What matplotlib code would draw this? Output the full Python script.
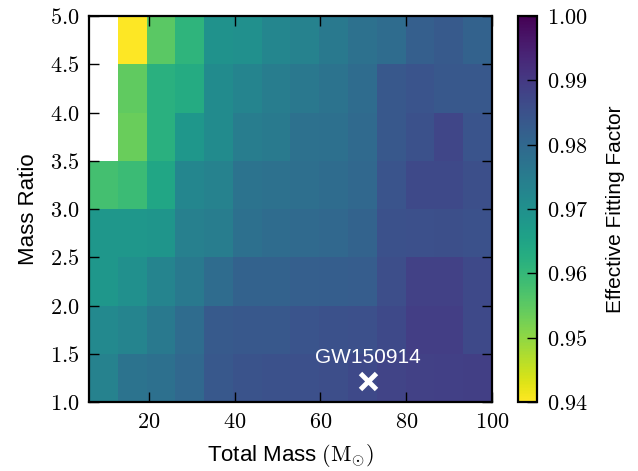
import numpy as np
import matplotlib
matplotlib.use('Agg')
import matplotlib.pyplot as plt
from matplotlib.ticker import FuncFormatter, MultipleLocator

plt.rcParams['mathtext.fontset'] = 'cm'
plt.rcParams['font.family'] = ['Liberation Sans', 'DejaVu Sans']

# grid edges: total mass (x) and mass ratio (y)
mass_edges = np.linspace(6, 100, 15)
ratio_edges = np.arange(1.0, 5.01, 0.5)

# effective fitting factor, rows from q=1.0-1.5 up to q=4.5-5.0
nan = np.nan
eff_ff = np.array([
    [0.9736, 0.9772, 0.9780, 0.9800, 0.9838, 0.9847, 0.9850, 0.9853, 0.9859, 0.9868, 0.9880, 0.9883, 0.9886, 0.9889],
    [0.9718, 0.9730, 0.9757, 0.9790, 0.9832, 0.9838, 0.9838, 0.9844, 0.9850, 0.9853, 0.9868, 0.9892, 0.9892, 0.9868],
    [0.9682, 0.9700, 0.9730, 0.9757, 0.9790, 0.9814, 0.9814, 0.9820, 0.9823, 0.9826, 0.9859, 0.9883, 0.9883, 0.9868],
    [0.9682, 0.9682, 0.9688, 0.9742, 0.9748, 0.9780, 0.9790, 0.9796, 0.9800, 0.9811, 0.9850, 0.9853, 0.9856, 0.9850],
    [0.9580, 0.9592, 0.9646, 0.9724, 0.9736, 0.9772, 0.9778, 0.9784, 0.9790, 0.9800, 0.9844, 0.9868, 0.9868, 0.9856],
    [nan,    0.9538, 0.9619, 0.9682, 0.9712, 0.9748, 0.9754, 0.9778, 0.9780, 0.9796, 0.9838, 0.9850, 0.9874, 0.9844],
    [nan,    0.9547, 0.9619, 0.9634, 0.9712, 0.9730, 0.9748, 0.9760, 0.9772, 0.9790, 0.9838, 0.9844, 0.9838, 0.9838],
    [nan,    0.9400, 0.9553, 0.9610, 0.9694, 0.9700, 0.9724, 0.9736, 0.9757, 0.9778, 0.9790, 0.9820, 0.9832, 0.9814],
])

# GW150914 position
gw_mass = 71.0
gw_ratio = 1.22

fig = plt.figure(figsize=(6.38, 4.71), dpi=100)
ax = fig.add_axes([0.1395, 0.1465, 0.6316, 0.8195])
cax = fig.add_axes([0.812, 0.1465, 0.0298, 0.8195])

mesh = ax.pcolormesh(mass_edges, ratio_edges, np.ma.masked_invalid(eff_ff),
                     cmap='viridis_r', vmin=0.94, vmax=1.0)
ax.plot(gw_mass, gw_ratio, 'x', color='white', ms=12, mew=3.5)
ax.text(gw_mass, gw_ratio + 0.14, 'GW150914', color='white', fontsize=15,
        ha='center', va='bottom')

ax.set_xlim(6, 100)
ax.set_ylim(1.0, 5.0)
ax.xaxis.set_major_locator(MultipleLocator(20))
ax.yaxis.set_major_locator(MultipleLocator(0.5))
ax.xaxis.set_major_formatter(FuncFormatter(lambda v, p: r'$%d$' % v))
ax.yaxis.set_major_formatter(FuncFormatter(lambda v, p: r'$%.1f$' % v))
ax.tick_params(direction='in', length=7, width=1, labelsize=16,
               top=True, right=True, pad=7)
for s in ax.spines.values():
    s.set_linewidth(1.6)

ax.set_xlabel(r'Total Mass $(\mathrm{M}_{\odot})$', fontsize=16, labelpad=7)
ax.set_ylabel('Mass Ratio', fontsize=16, labelpad=8)

cb = fig.colorbar(mesh, cax=cax, ticks=np.arange(0.94, 1.001, 0.01))
cb.ax.yaxis.set_major_formatter(FuncFormatter(lambda v, p: r'$%.2f$' % v))
cb.ax.tick_params(direction='in', length=7, width=1, labelsize=16, pad=7)
cb.outline.set_linewidth(1.6)
cb.set_label('Effective Fitting Factor', fontsize=15, labelpad=13)

plt.savefig('out.png', dpi=100)
